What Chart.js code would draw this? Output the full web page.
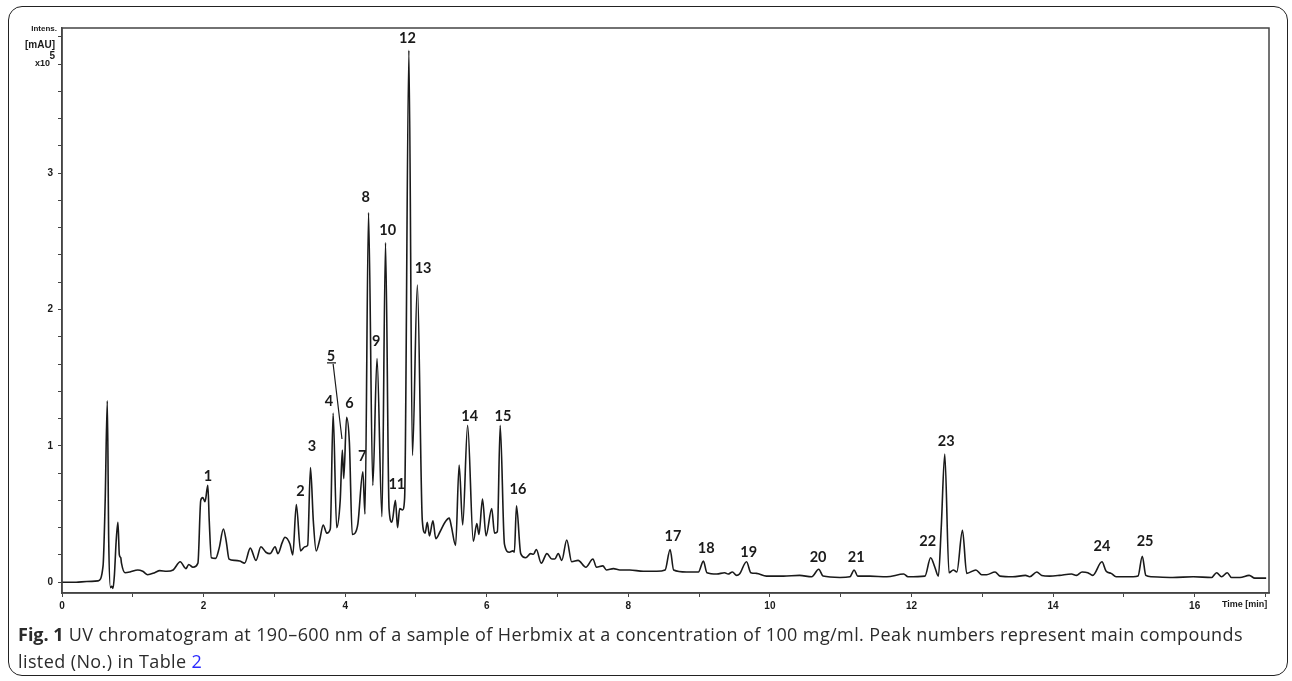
<!DOCTYPE html>
<html>
<head>
<meta charset="utf-8">
<script src="https://cdn.jsdelivr.net/npm/chart.js@4.4.1/dist/chart.umd.min.js"></script>
<style>
    html, body { margin: 0; padding: 0; background: #fff; }
    body { width: 1292px; height: 681px; position: relative; overflow: hidden; }
    #chart { position: absolute; left: 0; top: 0; }
    .card {
        position: absolute; left: 8px; top: 6px; width: 1280px; height: 670px;
        border: 1.5px solid #222; border-radius: 14px; box-sizing: border-box;
        pointer-events: none;
    }
    .caption {
        position: absolute; left: 18px; top: 621px; width: 1270px;
        font-family: "Open Sans", sans-serif; font-size: 18px; line-height: 26.5px;
        letter-spacing: 0.4px; color: #2b2b2b; white-space: nowrap;
    }
    .caption b { font-weight: 700; letter-spacing: 0; }
    .caption .link { color: #2a2aff; }
</style>
</head>
<body>
<canvas id="chart" width="1292" height="681"></canvas>
<div class="card"></div>
<div class="caption">
    <b>Fig. 1</b> UV chromatogram at 190–600 nm of a sample of Herbmix at a concentration of 100 mg/ml. Peak numbers represent main compounds<br>
    listed (No.) in Table <span class="link">2</span>
</div>
<script>
// retention time [min] and intensity [mAU x10^5]
const retentionTimes = [
    0.00, 0.20, 0.35, 0.51, 0.58, 0.61, 0.64, 0.66, 0.685, 0.70, 0.72, 0.74, 0.765, 0.79, 0.81, 0.83, 0.84, 0.89,
    0.96, 1.07, 1.14, 1.21, 1.31, 1.38, 1.48, 1.57, 1.67, 1.75, 1.79, 1.85, 1.92, 1.96, 1.99, 2.02, 2.06, 2.08,
    2.11, 2.17, 2.22, 2.28, 2.32, 2.36, 2.44, 2.51, 2.58, 2.66, 2.74, 2.81, 2.88, 2.94, 3.01, 3.05, 3.11, 3.15,
    3.22, 3.26, 3.31, 3.37, 3.43, 3.47, 3.51, 3.55, 3.59, 3.64, 3.69, 3.74, 3.79, 3.83, 3.88, 3.93, 3.96, 3.98,
    4.02, 4.06, 4.10, 4.14, 4.18, 4.25, 4.28, 4.33, 4.39, 4.45, 4.52, 4.57, 4.62, 4.66, 4.71, 4.74, 4.77, 4.81,
    4.84, 4.90, 4.95, 5.02, 5.09, 5.13, 5.16, 5.19, 5.24, 5.28, 5.34, 5.41, 5.47, 5.50, 5.56, 5.61, 5.66, 5.73,
    5.81, 5.86, 5.89, 5.94, 5.99, 6.07, 6.11, 6.15, 6.19, 6.25, 6.32, 6.37, 6.39, 6.42, 6.48, 6.55, 6.62, 6.66,
    6.70, 6.77, 6.85, 6.92, 6.96, 7.01, 7.06, 7.13, 7.20, 7.29, 7.40, 7.50, 7.55, 7.64, 7.69, 7.79, 7.88, 8.02,
    8.21, 8.40, 8.52, 8.59, 8.64, 8.82, 8.99, 9.06, 9.11, 9.25, 9.36, 9.41, 9.47, 9.53, 9.57, 9.67, 9.73, 9.81,
    9.95, 10.19, 10.42, 10.59, 10.69, 10.75, 10.99, 11.13, 11.19, 11.24, 11.41, 11.65, 11.89, 11.95, 12.19, 12.27,
    12.33, 12.38, 12.42, 12.47, 12.53, 12.59, 12.64, 12.72, 12.78, 12.91, 12.99, 13.06, 13.18, 13.25, 13.43, 13.61,
    13.67, 13.77, 13.84, 13.95, 14.09, 14.26, 14.33, 14.41, 14.49, 14.56, 14.69, 14.75, 14.82, 14.89, 15.13, 15.20,
    15.26, 15.31, 15.39, 15.69, 15.98, 16.24, 16.31, 16.38, 16.46, 16.52, 16.64, 16.77, 16.85, 17.01,
]
const intensities = [
    0.00, 0.00, 0.005, 0.01, 0.12, 0.60, 1.33, 0.30, -0.04, -0.03, -0.045, 0.05, 0.30, 0.44, 0.20, 0.18, 0.14, 0.07,
    0.075, 0.09, 0.08, 0.055, 0.07, 0.085, 0.08, 0.09, 0.15, 0.10, 0.13, 0.11, 0.14, 0.60, 0.62, 0.59, 0.71, 0.45,
    0.18, 0.175, 0.25, 0.39, 0.30, 0.17, 0.16, 0.155, 0.14, 0.25, 0.16, 0.26, 0.22, 0.21, 0.26, 0.21, 0.29, 0.33,
    0.28, 0.20, 0.57, 0.23, 0.26, 0.27, 0.84, 0.45, 0.23, 0.31, 0.42, 0.36, 0.39, 1.24, 0.40, 0.60, 0.97, 0.76,
    1.21, 1.02, 0.35, 0.36, 0.43, 0.81, 0.50, 2.71, 0.71, 1.64, 0.48, 2.49, 0.54, 0.44, 0.60, 0.40, 0.54, 0.53,
    0.62, 3.90, 0.93, 2.18, 0.45, 0.36, 0.44, 0.34, 0.45, 0.32, 0.37, 0.44, 0.47, 0.41, 0.27, 0.86, 0.42, 1.15,
    0.30, 0.43, 0.35, 0.61, 0.34, 0.54, 0.36, 0.37, 1.15, 0.28, 0.22, 0.23, 0.22, 0.56, 0.21, 0.18, 0.21, 0.205,
    0.24, 0.14, 0.21, 0.17, 0.17, 0.21, 0.16, 0.31, 0.15, 0.16, 0.11, 0.17, 0.11, 0.12, 0.09, 0.10, 0.09, 0.09,
    0.08, 0.08, 0.09, 0.24, 0.09, 0.075, 0.075, 0.155, 0.07, 0.06, 0.07, 0.06, 0.075, 0.05, 0.06, 0.15, 0.07, 0.065,
    0.045, 0.045, 0.05, 0.04, 0.095, 0.045, 0.035, 0.04, 0.09, 0.045, 0.045, 0.04, 0.06, 0.04, 0.045, 0.18,
    0.11, 0.045, 0.40, 0.94, 0.07, 0.09, 0.075, 0.38, 0.065, 0.09, 0.055, 0.055, 0.075, 0.045, 0.04, 0.05,
    0.04, 0.075, 0.05, 0.045, 0.05, 0.06, 0.05, 0.075, 0.07, 0.05, 0.15, 0.08, 0.065, 0.04, 0.04, 0.045,
    0.19, 0.05, 0.04, 0.035, 0.04, 0.035, 0.07, 0.04, 0.07, 0.035, 0.035, 0.05, 0.03, 0.03,
]

// peak numbers and where their labels sit (time, intensity)
const peakNumbers = ['1', '2', '3', '4', '5', '6', '7', '8', '9', '10', '11', '12', '13',
    '14', '15', '16', '17', '18', '19', '20', '21', '22', '23', '24', '25']
const peakLabelTimes = [2.06, 3.37, 3.53, 3.77, 3.80, 4.06, 4.24, 4.29, 4.44, 4.60, 4.73, 4.88, 5.10,
    5.76, 6.23, 6.44, 8.63, 9.10, 9.70, 10.68, 11.22, 12.23, 12.49, 14.69, 15.30]
const peakLabelValues = [0.78, 0.67, 1.00, 1.33, 1.66, 1.31, 0.92, 2.82, 1.77, 2.58, 0.72, 3.99, 2.30,
    1.22, 1.22, 0.68, 0.34, 0.245, 0.22, 0.18, 0.18, 0.30, 1.03, 0.26, 0.30]
// leader line from label 5 down to its peak
const peak5Leader = [[3.83, 1.60], [3.955, 1.05]]

const xLabeledTicks = [0, 2, 4, 6, 8, 10, 12, 14, 16]
const yLabeledTicks = [0, 1, 2, 3]

const tickFont = {family: 'Liberation Sans, Arial, sans-serif', size: 10, weight: 'bold'}
const inkColor = '#1a1a1a'

/**
 * frame, axis titles and peak numbers
 */
const annotations = {
    id: 'annotations',
    afterDraw(chart) {
        const {ctx, chartArea, scales: {x, y}} = chart
        ctx.save()

        ctx.strokeStyle = '#444'
        ctx.lineWidth = 1.5
        ctx.strokeRect(chartArea.left, chartArea.top, chartArea.right - chartArea.left, chartArea.bottom - chartArea.top)

        ctx.fillStyle = inkColor
        ctx.textAlign = 'right'
        ctx.textBaseline = 'middle'
        ctx.font = 'bold 8px Liberation Sans, Arial, sans-serif'
        ctx.fillText('Intens.', 57, 29)
        ctx.font = 'bold 10px Liberation Sans, Arial, sans-serif'
        ctx.fillText('[mAU]', 55, 45)
        ctx.fillText('5', 55, 56)
        ctx.font = 'bold 9px Liberation Sans, Arial, sans-serif'
        ctx.fillText('x10', 50, 64)

        ctx.textAlign = 'left'
        ctx.fillText('Time [min]', 1222, 605)

        ctx.font = 'bold 14.5px Lato, "Open Sans", sans-serif'
        ctx.textAlign = 'center'
        peakNumbers.forEach((label, i) => {
            ctx.fillText(label, x.getPixelForValue(peakLabelTimes[i]), y.getPixelForValue(peakLabelValues[i]))
        })

        // underline of "5" and its leader line
        const i5 = peakNumbers.indexOf('5')
        const lx = x.getPixelForValue(peakLabelTimes[i5])
        const ly = y.getPixelForValue(peakLabelValues[i5])
        ctx.strokeStyle = inkColor
        ctx.lineWidth = 1.2
        ctx.beginPath()
        ctx.moveTo(lx - 4, ly + 7)
        ctx.lineTo(lx + 5, ly + 7)
        ctx.moveTo(x.getPixelForValue(peak5Leader[0][0]), y.getPixelForValue(peak5Leader[0][1]))
        ctx.lineTo(x.getPixelForValue(peak5Leader[1][0]), y.getPixelForValue(peak5Leader[1][1]))
        ctx.stroke()

        ctx.restore()
    }
}

const chart = new Chart(document.getElementById('chart'), {
    type: 'line',
    data: {
        datasets: [{
            data: retentionTimes.map((t, i) => ({x: t, y: intensities[i]})),
            borderColor: inkColor,
            borderWidth: 1.6,
            pointRadius: 0,
            cubicInterpolationMode: 'monotone',
            fill: false,
        }]
    },
    options: {
        responsive: false,
        animation: false,
        layout: {padding: {left: 0, top: 28, right: 23, bottom: 0}},
        plugins: {legend: {display: false}, tooltip: {enabled: false}},
        scales: {
            x: {
                type: 'linear',
                min: 0,
                max: 17.05,
                afterFit: scale => { scale.height = 88 },
                border: {display: true, color: '#444', width: 1.5},
                grid: {drawOnChartArea: false, drawTicks: true, tickLength: 4, color: '#444'},
                ticks: {
                    stepSize: 1,
                    autoSkip: false,
                    maxRotation: 0,
                    includeBounds: false,
                    padding: 3,
                    color: inkColor,
                    font: tickFont,
                    callback: v => xLabeledTicks.includes(Math.round(v * 100) / 100) ? String(v) : '',
                },
            },
            y: {
                min: -0.079,
                max: 4.064,
                afterFit: scale => { scale.width = 62 },
                border: {display: true, color: '#444', width: 1.5},
                grid: {drawOnChartArea: false, drawTicks: true, tickLength: 4, color: '#444'},
                ticks: {
                    stepSize: 0.2,
                    autoSkip: false,
                    includeBounds: false,
                    padding: 5,
                    color: inkColor,
                    font: tickFont,
                    callback: v => {
                        const r = Math.round(v)
                        return Math.abs(v - r) < 1e-6 && yLabeledTicks.includes(r) ? String(r) : ''
                    },
                },
            },
        },
    },
    plugins: [annotations],
})
</script>
</body>
</html>
